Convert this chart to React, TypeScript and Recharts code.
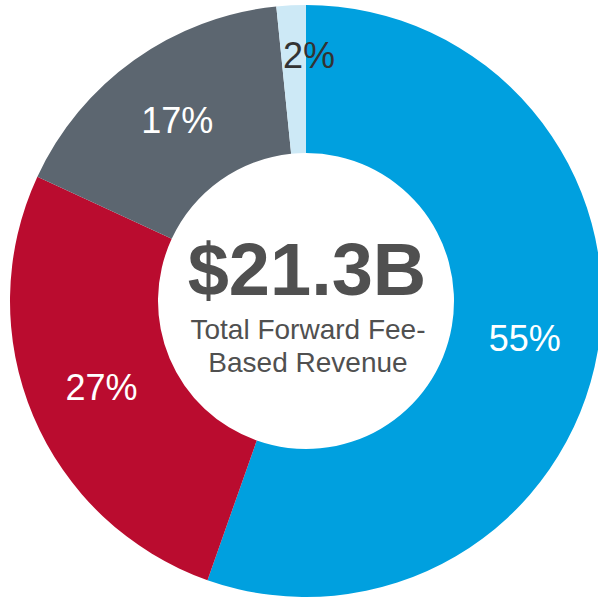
import { PieChart, Pie, Cell } from 'recharts';

const segments = ['Segment A', 'Segment B', 'Segment C', 'Segment D'];
const shares = [55.4, 26.5, 16.5, 1.6];
const shareLabels = ['55%', '27%', '17%', '2%'];
const colors = ['#00A0DF', '#BA0C2F', '#5C6670', '#CDE9F6'];
const labelColors = ['#FFFFFF', '#FFFFFF', '#FFFFFF', '#333333'];

const totalText = '$21.3B';
const captionLines = ['Total Forward Fee-', 'Based Revenue'];

const data = segments.map((name, i) => ({ name, value: shares[i] }));

const RAD = Math.PI / 180;
const FONT = '"Liberation Sans", Arial, Helvetica, sans-serif';

function CenterText({ cx, cy }: { cx: number; cy: number }) {
  return (
    <g style={{ fontFamily: FONT }} fill="#505050">
      <text x={cx + 1} y={cy - 6} textAnchor="middle" style={{ fontSize: 74, fontWeight: 700 }}>
        {totalText}
      </text>
      <text x={cx + 2} y={cy + 38} textAnchor="middle" style={{ fontSize: 28 }}>
        {captionLines[0]}
      </text>
      <text x={cx + 2} y={cy + 71} textAnchor="middle" style={{ fontSize: 28 }}>
        {captionLines[1]}
      </text>
    </g>
  );
}

function renderSliceLabel(props: any) {
  const { cx, cy, midAngle, endAngle, innerRadius, outerRadius, index } = props;
  // the thin slice gets its label nudged outward over the slice edge
  const small = shares[index] < 5;
  const angle = small ? endAngle : midAngle;
  const r = small ? outerRadius - 50 : (innerRadius + outerRadius) / 2;
  const x = cx + r * Math.cos(-angle * RAD) + (small ? 3 : 0);
  const y = cy + r * Math.sin(-angle * RAD);
  return (
    <g>
      {index === 0 && <CenterText cx={cx} cy={cy} />}
      <text
        x={x}
        y={y}
        fill={labelColors[index]}
        textAnchor="middle"
        dominantBaseline="central"
        style={{ fontFamily: FONT, fontSize: 36 }}
      >
        {shareLabels[index]}
      </text>
    </g>
  );
}

export default function App() {
  return (
    <div style={{ position: 'absolute', left: 0, top: 0, width: 598, height: 597, background: '#fff' }}>
      <PieChart width={598} height={597} margin={{ top: 0, right: 0, bottom: 0, left: 0 }}>
        <Pie
          data={data}
          dataKey="value"
          nameKey="name"
          cx={306}
          cy={301}
          innerRadius={148}
          outerRadius={296}
          startAngle={90}
          endAngle={-270}
          stroke="none"
          labelLine={false}
          label={renderSliceLabel}
          isAnimationActive={false}
        >
          {data.map((d, i) => (
            <Cell key={d.name} fill={colors[i]} />
          ))}
        </Pie>
      </PieChart>
    </div>
  );
}
